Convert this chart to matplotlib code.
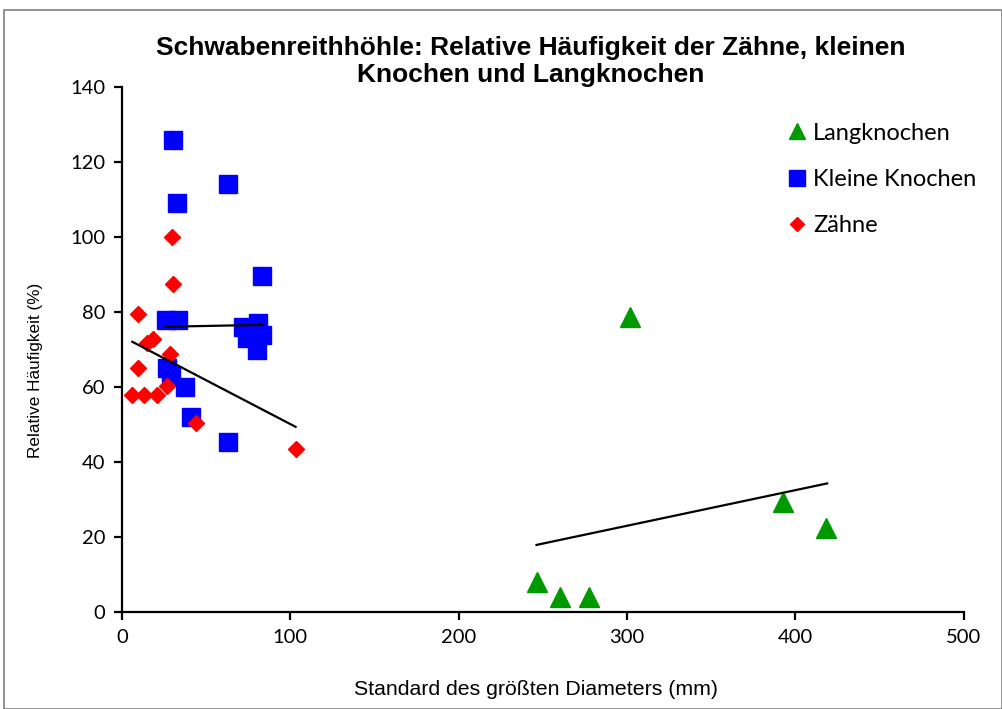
import matplotlib
matplotlib.use("Agg")
import matplotlib.pyplot as plt
from matplotlib.patches import Rectangle
from matplotlib.lines import Line2D

# Zähne (teeth)
zaehne_x = [30, 30.3, 9.3, 18.2, 14.6, 28.5, 9.7, 26.9, 6.1, 13.3, 20.6, 44, 103.1]
zaehne_y = [100, 87.5, 79.4, 72.7, 71.8, 68.7, 65, 60.3, 57.8, 57.8, 57.8, 50.3, 43.6]

# Kleine Knochen (small bones)
klein_x = [30.5, 63.1, 32.5, 83.3, 26, 33, 72, 81, 74, 83, 80, 27, 29, 37.6, 41.2, 63.1]
klein_y = [125.9, 114.3, 109, 89.6, 78, 78, 76, 77, 73, 74, 70, 65, 63, 60.1, 51.9, 45.4]

# Langknochen (long bones)
lang_x = [301.8, 246.2, 260.1, 277.5, 392.3, 418.3]
lang_y = [78.8, 8.1, 4.1, 4.1, 29.4, 22.3]

# linear trendlines (start, end)
trend_zaehne_x = [6.1, 103.1]
trend_zaehne_y = [72.1, 49.4]
trend_klein_x = [25.1, 83.9]
trend_klein_y = [76.1, 76.6]
trend_lang_x = [246.2, 418.8]
trend_lang_y = [17.9, 34.3]

title = "Schwabenreithhöhle: Relative Häufigkeit der Zähne, kleinen\nKnochen und Langknochen"

fig = plt.figure(figsize=(10.03, 7.09), dpi=100)
ax = fig.add_axes([0.1216, 0.1368, 0.8394, 0.7402])

fig.patches.append(Rectangle((0.004, 0.0), 0.995, 0.986, transform=fig.transFigure,
                             fill=False, edgecolor="#7f7f7f", linewidth=1.2))

ax.plot(lang_x, lang_y, "^", color="#009900", markersize=14, linestyle="none", zorder=2)
ax.plot(klein_x, klein_y, "s", color="#0000ff", markersize=13.5, linestyle="none", zorder=2)
ax.plot(zaehne_x, zaehne_y, "D", color="#ff0000", markersize=8.5, linestyle="none", zorder=2)

for tx, ty in [(trend_zaehne_x, trend_zaehne_y), (trend_klein_x, trend_klein_y),
               (trend_lang_x, trend_lang_y)]:
    ax.plot(tx, ty, color="black", linewidth=1.6, zorder=3)

ax.set_xlim(0, 500)
ax.set_ylim(0, 140)
ax.set_xticks(range(0, 501, 100))
ax.set_yticks(range(0, 141, 20))
for s in ["top", "right"]:
    ax.spines[s].set_visible(False)
for s in ["left", "bottom"]:
    ax.spines[s].set_linewidth(1.6)
ax.tick_params(direction="out", length=6, width=1.6, labelsize=14.5, pad=6)
for lab in ax.get_xticklabels() + ax.get_yticklabels():
    lab.set_family("Lato")

ax.set_xlabel("Standard des größten Diameters (mm)", fontsize=15.3,
              family="Liberation Sans")
ax.xaxis.set_label_coords(0.492, -0.13)
ax.set_ylabel("Relative Häufigkeit (%)", fontsize=12.3, family="Liberation Sans")
ax.yaxis.set_label_coords(-0.094, 0.461)
fig.text(0.529, 0.913, title, ha="center", va="center", fontsize=19,
         fontweight="bold", family="Liberation Sans", linespacing=1.16)

handles = [
    Line2D([], [], marker="^", color="#009900", linestyle="none", markersize=12),
    Line2D([], [], marker="s", color="#0000ff", linestyle="none", markersize=11),
    Line2D([], [], marker="D", color="#ff0000", linestyle="none", markersize=7.5),
]
ax.legend(handles, ["Langknochen", "Kleine Knochen", "Zähne"], loc="upper left",
          bbox_to_anchor=(0.765, 0.973), frameon=False,
          prop={"family": "Lato", "size": 17}, labelspacing=1.07,
          handlelength=0.8, handletextpad=0.3)

fig.savefig("out.png", dpi=100)
